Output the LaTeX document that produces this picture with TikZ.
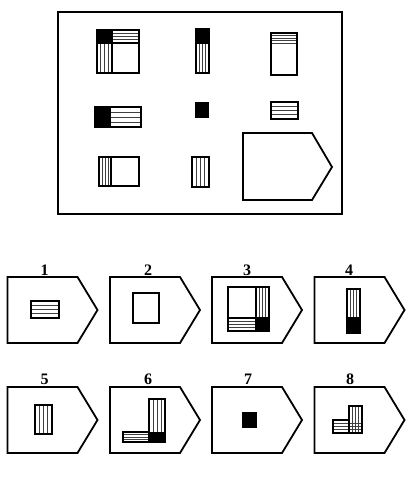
\documentclass[tikz,border=0pt]{standalone}
\usepackage{fontspec}
\setmainfont{Liberation Serif}
\tikzset{
  frame/.style={line width=1.8pt, line join=miter},
  shapeline/.style={line width=1.4pt},
  hatch/.style={line width=0.7pt, black!75},
  lbl/.style={font=\fontsize{16}{16}\selectfont\bfseries, inner sep=0pt}
}
% horizontal hatch: x1 y1 x2 y2 n
\newcommand\hatchH[5]{\foreach \i in {1,...,#5}{\draw[hatch] (#1,{#2+(#4-#2)*\i/(#5+1)}) -- (#3,{#2+(#4-#2)*\i/(#5+1)});}}
% vertical hatch
\newcommand\hatchV[5]{\foreach \i in {1,...,#5}{\draw[hatch] ({#1+(#3-#1)*\i/(#5+1)},#2) -- ({#1+(#3-#1)*\i/(#5+1)},#4);}}
\newcommand\pent[2]{\draw[frame] (#1,#2) -- ({#1+70},#2) -- ({#1+90},{#2+33}) -- ({#1+70},{#2+66}) -- (#1,{#2+66}) -- cycle;}
\begin{document}
\begin{tikzpicture}[x=1pt,y=-1pt]
\useasboundingbox (0,0) rectangle (419,479);
% main frame
\draw[frame] (58,12) rectangle (342,214);
% cell 1
\fill (97,30) rectangle (112,43);
\hatchH{112}{30}{139}{43}{3}
\hatchV{97}{43}{112}{73}{3}
\draw[shapeline] (112,30) -- (112,73) (97,43) -- (139,43);
\draw[shapeline] (97,30) rectangle (139,73);
% cell 2
\fill (196,29) rectangle (209,44);
\hatchV{196}{44}{209}{73}{3}
\draw[shapeline] (196,29) rectangle (209,73);
% cell 3
\hatchH{271}{33}{297}{46}{4}
\draw[shapeline] (271,33) rectangle (297,75);
% cell 4
\fill (95,107) rectangle (111,127);
\hatchH{111}{107}{141}{127}{3}
\draw[shapeline] (95,107) rectangle (141,127);
% cell 5
\fill (195,102) rectangle (209,118);
% cell 6
\hatchH{271}{102}{298}{119}{3}
\draw[shapeline] (271,102) rectangle (298,119);
% cell 7
\hatchV{99}{157}{111}{186}{3}
\draw[shapeline] (111,157) -- (111,186);
\draw[shapeline] (99,157) rectangle (139,186);
% cell 8
\hatchV{192}{157}{209}{187}{3}
\draw[shapeline] (192,157) rectangle (209,187);
% cell 9 (question)
\draw[frame] (243,133) -- (312,133) -- (332,167) -- (312,200) -- (243,200) -- cycle;

% options row 1
\pent{7.5}{277}
\pent{110}{277}
\pent{212}{277}
\pent{314.5}{277}
\node[lbl] (l1) at (44.5,270) {1};
\node[lbl] (l2) at (148,270) {2};
\node[lbl] (l3) at (247,270) {3};
\node[lbl] (l4) at (349,270) {4};
% option 1
\hatchH{31}{301}{59}{318}{3}
\draw[shapeline] (31,301) rectangle (59,318);
% option 2
\draw[shapeline] (133,293) rectangle (159,323);
% option 3
\fill (256,318) rectangle (269,331);
\hatchV{256}{287}{269}{318}{3}
\hatchH{228}{318}{256}{331}{3}
\draw[shapeline] (256,287) -- (256,331) (228,318) -- (269,318);
\draw[shapeline] (228,287) rectangle (269,331);
% option 4
\fill (347,317) rectangle (360,333);
\hatchV{347}{289}{360}{317}{3}
\draw[shapeline] (347,289) rectangle (360,333);

% options row 2
\pent{7.5}{387}
\pent{110}{387}
\pent{212}{387}
\pent{314.5}{387}
\node[lbl] (l5) at (44.5,379) {5};
\node[lbl] (l6) at (148,379) {6};
\node[lbl] (l7) at (248,379) {7};
\node[lbl] (l8) at (350,379) {8};
% option 5
\hatchV{35}{405}{52}{434}{3}
\draw[shapeline] (35,405) rectangle (52,434);
% option 6
\fill (149,432) rectangle (165,442);
\hatchV{149}{399}{165}{432}{3}
\hatchH{123}{432}{149}{442}{3}
\draw[shapeline] (149,399) rectangle (165,442);
\draw[shapeline] (123,432) rectangle (149,442);
% option 7
\fill (242,412) rectangle (257,428);
% option 8
\hatchV{349}{406}{362}{433}{3}
\hatchH{333}{420}{362}{433}{3}
\draw[shapeline] (349,406) rectangle (362,433);
\draw[shapeline] (333,420) rectangle (349,433);
\end{tikzpicture}
\end{document}
